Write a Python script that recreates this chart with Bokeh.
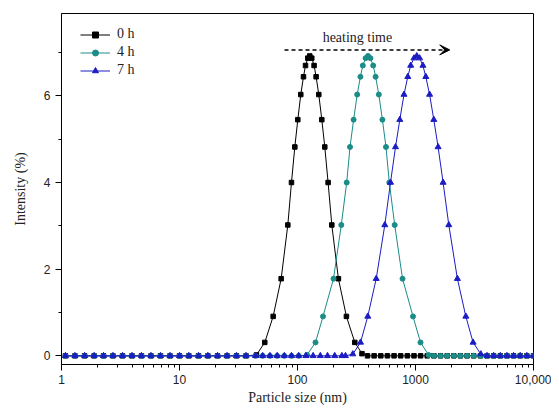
from bokeh.plotting import figure
from bokeh.models import (Range1d, FixedTicker, SingleIntervalTicker, Legend,
                          LegendItem, Arrow, VeeHead, Label)
from bokeh.embed import file_html
from bokeh.resources import INLINE

# ---------------- data (particle size in nm, intensity in %) ----------------
baseline_left = [1.08, 1.30, 1.57, 1.89, 2.27, 2.73, 3.29, 3.96, 4.76, 5.73, 6.90,
                 8.31, 10.0, 12.0, 14.5, 17.4, 21.0, 25.3, 30.4, 36.6]
baseline_mid = [44.1, 50.7, 58.4, 67.2, 77.3, 89.0, 102.4, 117.8, 135.6, 156.1,
                179.6, 206.7, 237.8]
baseline_right = [392, 446, 508, 578, 658, 749, 853, 971, 1105, 1258, 1432, 1630,
                  1855, 2112, 2404, 2736, 3115, 3546, 4036, 4595, 5230, 5954, 6778,
                  7715, 8783, 10000]

peak_0h_x = [44.9, 52.8, 62.2, 72.7, 82.8, 88.9, 94.9, 100.6, 106.6, 112.4, 116.9,
             122.3, 127.1, 132.1, 138.2, 143.8, 151.5, 160.7, 170.3, 181.7, 195.3,
             222.2, 259.7, 305.9, 352]
peak_0h_y = [0.02, 0.31, 0.91, 1.78, 3.02, 4.00, 4.82, 5.45, 6.03, 6.44, 6.70, 6.87,
             6.92, 6.87, 6.70, 6.44, 6.03, 5.45, 4.82, 4.00, 3.02, 1.78, 0.91, 0.31,
             0.05]

peak_4h_x = [120.4, 142.1, 164.5, 201.9, 235.0, 261.2, 278.6, 298.9, 320.6, 341.3,
             357.6, 377.8, 395.9, 414.9, 438.2, 459.2, 488.7, 524.2, 562.3, 599.8,
             666.4, 776.2, 952.5, 1102.7, 1290]
peak_4h_y = [0.02, 0.31, 0.91, 1.78, 3.02, 4.00, 4.82, 5.45, 6.03, 6.44, 6.70, 6.87,
             6.92, 6.87, 6.70, 6.44, 6.03, 5.45, 4.82, 4.00, 3.02, 1.78, 0.91, 0.31,
             0.02]

peak_7h_x = [255, 294.2, 342.0, 394.2, 464.5, 549.3, 614.0, 676.9, 736.1, 798.9,
             860.4, 910.6, 971.2, 1025.6, 1083.0, 1155.5, 1222.8, 1316.9, 1429.1,
             1554.0, 1713.5, 1915.1, 2265.3, 2669.6, 3077.0, 3576.0]
peak_7h_y = [0.00, 0.04, 0.31, 0.91, 1.78, 3.02, 4.00, 4.82, 5.45, 6.03, 6.44, 6.70,
             6.87, 6.92, 6.87, 6.70, 6.44, 6.03, 5.45, 4.82, 4.00, 3.02, 1.78, 0.91,
             0.31, 0.04]

series_labels = ["0 h", "4 h", "7 h"]
x_ticks = [1, 10, 100, 1000, 10000]
x_tick_labels = ["1", "10", "100", "1000", "10,000"]
arrow_x = [77.6, 1950]
arrow_y = 7.06
note_x, note_y = 322, 7.35

# assemble series (baseline points are zero intensity)
x_0h = baseline_left + peak_0h_x + baseline_right
y_0h = [0.0] * len(baseline_left) + peak_0h_y + [0.0] * len(baseline_right)
x_4h = baseline_left + baseline_mid[:7] + peak_4h_x + baseline_right[10:]
y_4h = [0.0] * (len(baseline_left) + 7) + peak_4h_y + [0.0] * len(baseline_right[10:])
x_7h = baseline_left + baseline_mid + peak_7h_x + baseline_right[18:]
y_7h = [0.0] * (len(baseline_left) + len(baseline_mid)) + peak_7h_y + [0.0] * len(baseline_right[18:])

colors = ["#000000", "#1b8c87", "#1c1cc4"]
markers = ["square", "circle", "triangle"]
msizes = [4.5, 5, 6]

SERIF = "Liberation Serif"
SANS = "Liberation Sans"

p = figure(x_axis_type="log", x_range=Range1d(1, 10000), y_range=Range1d(-0.2, 7.9),
           frame_width=472, frame_height=351, output_backend="svg",
           toolbar_location=None, min_border_left=61, min_border_right=18,
           min_border_top=13, min_border_bottom=0)

p.xgrid.visible = False
p.ygrid.visible = False
p.outline_line_color = "black"
p.outline_line_alpha = 1
p.outline_line_width = 1
p.background_fill_color = "white"
p.border_fill_color = "white"

# x axis
p.xaxis.ticker = FixedTicker(ticks=x_ticks,
                             minor_ticks=[m * 10 ** e for e in range(4) for m in range(2, 10)])
p.xaxis.major_label_overrides = {t: s for t, s in zip(x_ticks, x_tick_labels)}
p.xaxis.axis_label = "Particle size (nm)"
# y axis
p.yaxis.ticker = SingleIntervalTicker(interval=2, num_minor_ticks=2)
p.yaxis.axis_label = "Intensity (%)"

for ax in (p.xaxis[0], p.yaxis[0]):
    ax.axis_line_color = "black"
    ax.major_tick_line_color = "black"
    ax.minor_tick_line_color = "black"
    ax.major_tick_in = 0
    ax.major_tick_out = 6
    ax.minor_tick_in = 0
    ax.minor_tick_out = 3
    ax.major_label_text_font = SANS
    ax.major_label_text_font_size = "12px"
    ax.major_label_text_color = "#222222"
    ax.axis_label_text_font = SERIF
    ax.axis_label_text_font_size = "14px"
    ax.axis_label_text_font_style = "normal"
    ax.axis_label_text_color = "#222222"

p.xaxis.major_label_standoff = 4
p.xaxis.axis_label_standoff = 3
p.yaxis.major_label_standoff = 5
p.yaxis.axis_label_standoff = 13

items = []
for xs, ys, c, m, s, lab in zip([x_0h, x_4h, x_7h], [y_0h, y_4h, y_7h], colors,
                                markers, msizes, series_labels):
    ln = p.line(xs, ys, line_color=c, line_width=1)
    sc = p.scatter(xs, ys, marker=m, size=s, fill_color=c, line_color=c)
    items.append(LegendItem(label=lab, renderers=[ln, sc]))

legend = Legend(items=items, location=(19, 286), padding=0, margin=0, spacing=2,
                glyph_width=30, glyph_height=15, label_height=15,
                label_standoff=7, label_text_font=SERIF, label_text_font_size="14px",
                label_text_color="#222222", border_line_alpha=0,
                background_fill_alpha=0)
p.add_layout(legend)

p.add_layout(Arrow(end=VeeHead(size=10, fill_color="black", line_color="black"),
                   x_start=arrow_x[0], y_start=arrow_y, x_end=arrow_x[1], y_end=arrow_y,
                   line_color="black", line_width=1.5, line_dash="4 3"))
p.add_layout(Label(x=note_x, y=note_y, text="heating time", text_font=SERIF,
                   text_font_size="14px", text_align="center", text_baseline="middle",
                   text_color="#222222"))

open("out.html", "w").write(file_html(p, INLINE))
